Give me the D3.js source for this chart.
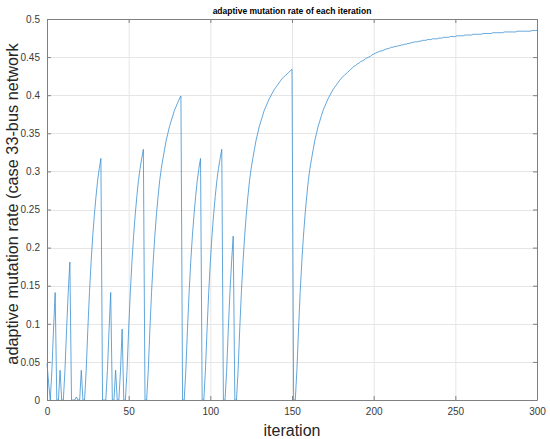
<!DOCTYPE html>
<html>
<head>
<meta charset="utf-8">
<script src="https://cdn.jsdelivr.net/npm/d3@7"></script>
<style>
  html, body { margin: 0; padding: 0; background: #fff; }
  svg { display: block; font-family: Arial, "Liberation Sans", Helvetica, sans-serif; }
</style>
</head>
<body>
<svg id="chart" width="550" height="439"></svg>
<script>
// ---- data ----
const titleText = "adaptive mutation rate of each iteration";
const xLabelText = "iteration";
const yLabelText = "adaptive mutation rate (case 33-bus network";
const xTicks = [0, 50, 100, 150, 200, 250, 300];
const yTicks = [0, 0.05, 0.1, 0.15, 0.2, 0.25, 0.3, 0.35, 0.4, 0.45, 0.5];
const yTickLabels = ["0", "0.05", "0.1", "0.15", "0.2", "0.25", "0.3", "0.35", "0.4", "0.45", "0.5"];

// mutation rate at iteration 0..300
const rate = [
  0.048, 0.022, 0, 0.039, 0.093, 0.141, 0, 0, 0.039, 0,
  0, 0.039, 0.093, 0.141, 0.181, 0, 0, 0, 0.004, 0,
  0, 0.039, 0, 0, 0.039, 0.093, 0.141, 0.181, 0.215, 0.243,
  0.267, 0.288, 0.304, 0.317, 0, 0, 0, 0.039, 0.093, 0.141,
  0, 0, 0.039, 0, 0, 0.039, 0.093, 0, 0, 0.039,
  0.093, 0.141, 0.181, 0.215, 0.243, 0.267, 0.288, 0.304, 0.317, 0.329,
  0, 0, 0.039, 0.093, 0.141, 0.181, 0.215, 0.243, 0.267, 0.288,
  0.304, 0.317, 0.329, 0.341, 0.350, 0.359, 0.366, 0.373, 0.380, 0.385,
  0.390, 0.395, 0.399, 0, 0, 0.039, 0.093, 0.141, 0.181, 0.215,
  0.243, 0.267, 0.288, 0.304, 0.317, 0, 0, 0.039, 0.093, 0.141,
  0.181, 0.215, 0.243, 0.267, 0.288, 0.304, 0.317, 0.329, 0, 0,
  0.039, 0.093, 0.141, 0.181, 0.215, 0, 0, 0.039, 0.093, 0.141,
  0.181, 0.215, 0.243, 0.267, 0.288, 0.304, 0.317, 0.329, 0.341, 0.350,
  0.359, 0.366, 0.373, 0.380, 0.385, 0.390, 0.395, 0.399, 0.403, 0.407,
  0.410, 0.413, 0.416, 0.419, 0.422, 0.424, 0.426, 0.428, 0.430, 0.432,
  0.434, 0, 0, 0.039, 0.093, 0.141, 0.181, 0.215, 0.243, 0.267,
  0.288, 0.304, 0.317, 0.329, 0.341, 0.350, 0.359, 0.366, 0.373, 0.380,
  0.385, 0.390, 0.395, 0.399, 0.403, 0.407, 0.410, 0.413, 0.416, 0.419,
  0.422, 0.424, 0.426, 0.428, 0.430, 0.432, 0.434, 0.436, 0.438, 0.439,
  0.441, 0.442, 0.444, 0.445, 0.446, 0.448, 0.449, 0.450, 0.451, 0.453,
  0.454, 0.455, 0.456, 0.457, 0.458, 0.458, 0.459, 0.460, 0.461, 0.461,
  0.462, 0.463, 0.463, 0.464, 0.464, 0.465, 0.465, 0.466, 0.466, 0.467,
  0.467, 0.468, 0.468, 0.469, 0.469, 0.470, 0.470, 0.470, 0.471, 0.471,
  0.472, 0.472, 0.472, 0.473, 0.473, 0.473, 0.474, 0.474, 0.474, 0.474,
  0.475, 0.475, 0.475, 0.476, 0.476, 0.476, 0.476, 0.477, 0.477, 0.477,
  0.477, 0.478, 0.478, 0.478, 0.478, 0.478, 0.479, 0.479, 0.479, 0.479,
  0.479, 0.480, 0.480, 0.480, 0.480, 0.480, 0.480, 0.481, 0.481, 0.481,
  0.481, 0.481, 0.481, 0.482, 0.482, 0.482, 0.482, 0.482, 0.482, 0.482,
  0.483, 0.483, 0.483, 0.483, 0.483, 0.483, 0.483, 0.483, 0.484, 0.484,
  0.484, 0.484, 0.484, 0.484, 0.484, 0.484, 0.484, 0.485, 0.485, 0.485,
  0.485
];
const iterations = rate.map((_, i) => i);

// ---- layout ----
const L = 47, R = 537, T = 19, B = 400;
const svg = d3.select("#chart");
const x = d3.scaleLinear().domain([0, 300]).range([L, R]);
const y = d3.scaleLinear().domain([0, 0.5]).range([B, T]);

const gridColor = "#e6e6e6";
const axisColor = "#808080";
const textColor = "#3a3a3a";

// grid
const grid = svg.append("g");
grid.selectAll(".gx").data(xTicks).join("line")
  .attr("x1", d => x(d) + 0.5).attr("x2", d => x(d) + 0.5)
  .attr("y1", T).attr("y2", B)
  .attr("stroke", gridColor).attr("stroke-width", 1);
grid.selectAll(".gy").data(yTicks).join("line")
  .attr("y1", d => Math.round(y(d)) + 0.5).attr("y2", d => Math.round(y(d)) + 0.5)
  .attr("x1", L).attr("x2", R)
  .attr("stroke", gridColor).attr("stroke-width", 1);

// line
const line = d3.line()
  .x((d, i) => x(iterations[i]))
  .y(d => y(d));
svg.append("path")
  .datum(rate)
  .attr("d", line)
  .attr("fill", "none")
  .attr("stroke", "#3a8fd2")
  .attr("stroke-width", 0.8)
  .attr("stroke-linejoin", "miter");

// axes (MATLAB-like box with inward ticks)
const tickLen = 4;

const xAxisB = d3.axisBottom(x).tickValues(xTicks).tickSizeInner(-tickLen).tickSizeOuter(0).tickPadding(8);
const gxB = svg.append("g").attr("transform", `translate(0,${B})`).call(xAxisB);
const xAxisT = d3.axisTop(x).tickValues(xTicks).tickSizeInner(-tickLen).tickSizeOuter(0).tickFormat("");
const gxT = svg.append("g").attr("transform", `translate(0,${T})`).call(xAxisT);
const yAxisL = d3.axisLeft(y).tickValues(yTicks).tickSizeInner(-tickLen).tickSizeOuter(0).tickPadding(7)
  .tickFormat((d) => yTickLabels[yTicks.indexOf(d)]);
const gyL = svg.append("g").attr("transform", `translate(${L},0)`).call(yAxisL);
const yAxisR = d3.axisRight(y).tickValues(yTicks).tickSizeInner(-tickLen).tickSizeOuter(0).tickFormat("");
const gyR = svg.append("g").attr("transform", `translate(${R},0)`).call(yAxisR);

[gxB, gxT, gyL, gyR].forEach(g => {
  g.select(".domain").attr("stroke", axisColor).attr("stroke-width", 1);
  g.selectAll(".tick line").attr("stroke", axisColor);
  g.selectAll(".tick text").attr("fill", textColor).attr("font-size", "10px")
    .attr("font-family", "Arial, 'Liberation Sans', Helvetica, sans-serif");
});

// title
svg.append("text")
  .attr("x", (L + R) / 2).attr("y", 13.5)
  .attr("text-anchor", "middle")
  .attr("font-size", "8.5px").attr("font-weight", "bold")
  .attr("fill", "#000")
  .text(titleText);

// x label
svg.append("text")
  .attr("x", (L + R) / 2).attr("y", 436)
  .attr("text-anchor", "middle")
  .attr("font-size", "16px")
  .attr("fill", "#262626")
  .text(xLabelText);

// y label
svg.append("text")
  .attr("transform", `translate(18,${204}) rotate(-90)`)
  .attr("text-anchor", "middle")
  .attr("font-size", "16.3px")
  .attr("fill", "#262626")
  .text(yLabelText);
</script>
</body>
</html>
